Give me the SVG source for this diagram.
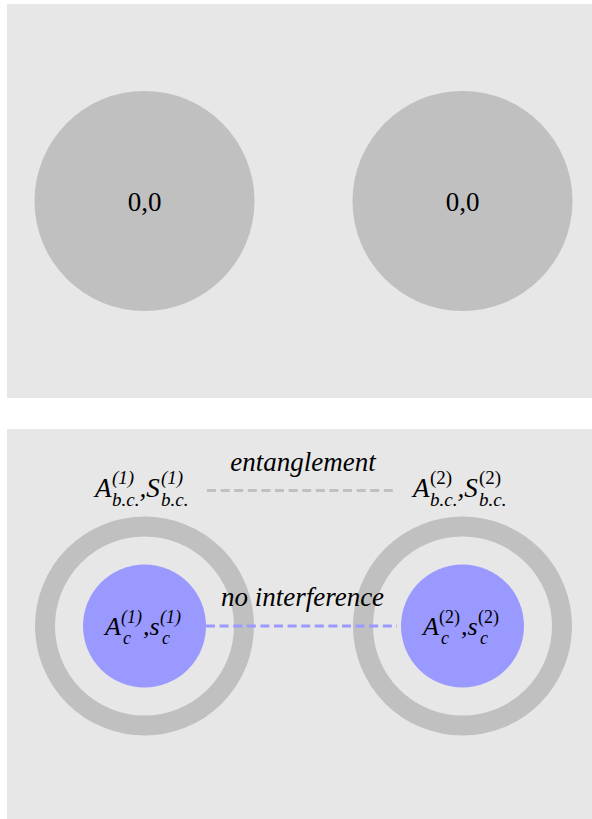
<svg xmlns="http://www.w3.org/2000/svg" width="592" height="819" viewBox="0 0 592 819">
<style>
.panel{fill:#e7e7e7}
.disk{fill:#c0c0c0}
.ring{fill:none;stroke:#c0c0c0;stroke-width:20}
.core{fill:#9999ff}
text{fill:#000;font-family:'Liberation Serif','DejaVu Serif','Noto Serif','Times New Roman',Times,serif}
.big{font-size:27px}
.mid{font-size:26px}
.it{font-style:italic}
.s{font-size:19px}
.s2{font-size:18px}
.up{font-style:normal}
.ent{fill:none;stroke:#c0c0c0;stroke-width:3;stroke-dasharray:9 4.6}
.noi{fill:none;stroke:#9999ff;stroke-width:3;stroke-dasharray:9 4.6}
</style>
<rect class="panel" x="7" y="4" width="585" height="394"/>
<rect class="panel" x="7" y="429" width="585" height="390"/>

<g id="top-left">
<circle class="disk" cx="144.5" cy="201" r="110"/>
<text class="big" x="144.5" y="210.5" text-anchor="middle">0,0</text>
</g>
<g id="top-right">
<circle class="disk" cx="462.5" cy="201" r="110"/>
<text class="big" x="462.5" y="210.5" text-anchor="middle">0,0</text>
</g>

<g id="system-1">
<circle class="ring" cx="144.5" cy="626" r="99.5"/>
<circle class="core" cx="144.5" cy="626" r="61.5"/>
<text class="big it"><tspan x="95" y="497">A</tspan><tspan class="s" x="112" y="484">(1)</tspan><tspan class="s" x="112" y="506">b.c.</tspan><tspan x="139.5" y="497">,S</tspan><tspan class="s" x="161" y="484">(1)</tspan><tspan class="s" x="161" y="506">b.c.</tspan></text>
<text class="mid it"><tspan x="105" y="635">A</tspan><tspan class="s2" x="121" y="623">(1)</tspan><tspan class="s2" x="123" y="644">c</tspan><tspan x="143" y="635">,s</tspan><tspan class="s2" x="160" y="623">(1)</tspan><tspan class="s2" x="162" y="644">c</tspan></text>
</g>

<g id="system-2">
<circle class="ring" cx="462.5" cy="626" r="99.5"/>
<circle class="core" cx="462.5" cy="626" r="61.5"/>
<text class="big it"><tspan x="413" y="497">A</tspan><tspan class="s up" x="430" y="484">(2)</tspan><tspan class="s" x="430" y="506">b.c.</tspan><tspan x="457.5" y="497">,S</tspan><tspan class="s up" x="479" y="484">(2)</tspan><tspan class="s" x="479" y="506">b.c.</tspan></text>
<text class="mid it"><tspan x="423" y="635">A</tspan><tspan class="s2 up" x="439" y="623">(2)</tspan><tspan class="s2" x="441" y="644">c</tspan><tspan x="461" y="635">,s</tspan><tspan class="s2 up" x="478" y="623">(2)</tspan><tspan class="s2" x="480" y="644">c</tspan></text>
</g>

<g id="connectors">
<line class="ent" x1="207" y1="490.5" x2="397" y2="490.5"/>
<line class="noi" x1="206" y1="626" x2="397" y2="626"/>
<text class="big it" x="303" y="471" text-anchor="middle">entanglement</text>
<text class="big it" x="302.5" y="605.5" text-anchor="middle">no interference</text>
</g>
</svg>
